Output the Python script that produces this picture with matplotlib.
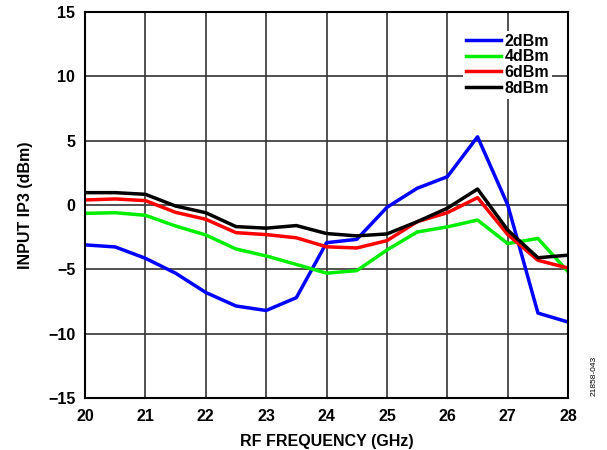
import numpy as np
import matplotlib.pyplot as plt

plt.rcParams['font.family'] = ['Liberation Sans', 'DejaVu Sans']

freq = [20, 20.5, 21, 21.5, 22, 22.5, 23, 23.5, 24, 24.5, 25, 25.5, 26, 26.5, 27, 27.5, 28]

ip3_2dbm = [-3.1, -3.26, -4.14, -5.3, -6.8, -7.85, -8.2, -7.2, -2.93, -2.67, -0.18, 1.3, 2.2, 5.3, 0.0, -8.4, -9.1]
ip3_4dbm = [-0.65, -0.6, -0.8, -1.63, -2.33, -3.42, -3.96, -4.62, -5.3, -5.1, -3.5, -2.1, -1.7, -1.17, -3.0, -2.6, -5.2]
ip3_6dbm = [0.39, 0.47, 0.34, -0.57, -1.11, -2.15, -2.3, -2.55, -3.25, -3.34, -2.77, -1.3, -0.6, 0.57, -2.3, -4.3, -4.9]
ip3_8dbm = [0.96, 0.96, 0.83, -0.08, -0.6, -1.68, -1.8, -1.6, -2.22, -2.4, -2.25, -1.3, -0.25, 1.24, -1.95, -4.1, -3.9]

series = [('2dBm', ip3_2dbm, '#0000ff'),
          ('4dBm', ip3_4dbm, '#00ee00'),
          ('6dBm', ip3_6dbm, '#ff0000'),
          ('8dBm', ip3_8dbm, '#000000')]

fs = 11.5

fig = plt.figure(figsize=(6.07, 4.5), dpi=100)
ax = fig.add_axes([0.140, 0.1156, 0.796, 0.8577])

for name, vals, col in series:
    ax.plot(freq, vals, color=col, lw=2.5, label=name)

ax.set_xlim(20, 28)
ax.set_ylim(-15, 15)
ax.set_xticks(np.arange(20, 29, 1))
ax.set_yticks(np.arange(-15, 16, 5))
ax.set_yticklabels(['\u221215', '\u221210', '\u22125', '0', '5', '10', '15'])
ax.grid(True, color='#333333', lw=1.2)
ax.set_axisbelow(True)
for s in ax.spines.values():
    s.set_linewidth(1.5)
ax.tick_params(axis='x', length=0, pad=8, labelsize=fs)
ax.tick_params(axis='y', length=0, pad=7, labelsize=fs)
for lab in ax.get_xticklabels() + ax.get_yticklabels():
    lab.set_fontweight('bold')

ax.set_xlabel('RF FREQUENCY (GHz)', fontsize=fs, fontweight='bold', labelpad=7)
ax.set_ylabel('INPUT IP3 (dBm)', fontsize=fs, fontweight='bold', labelpad=11)

leg = ax.legend(loc='upper right', bbox_to_anchor=(0.967, 0.952), frameon=True,
                fancybox=False, edgecolor='none', framealpha=1,
                prop={'weight': 'bold', 'size': fs},
                handlelength=2.2, handletextpad=0.2, labelspacing=0.04,
                borderpad=0.2, borderaxespad=0)

fig.text(0.978, 0.12, '21858-043', rotation=90, fontsize=6, ha='center', va='bottom')

fig.savefig('out.png', dpi=100)
